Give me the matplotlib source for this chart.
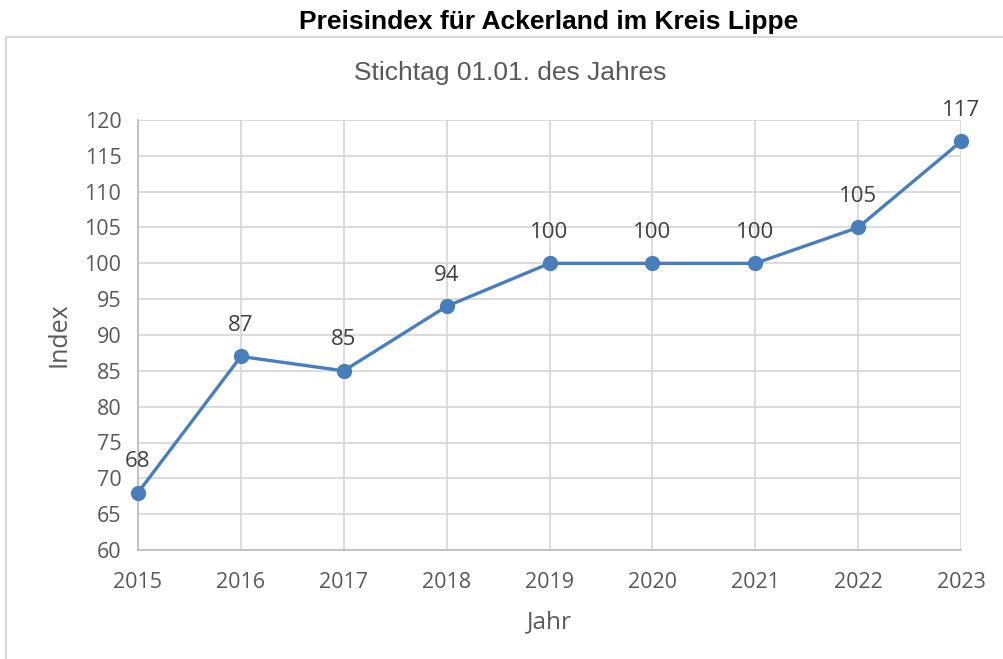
import matplotlib
matplotlib.use('Agg')
import matplotlib.pyplot as plt
from matplotlib.patches import Rectangle

years = [2015, 2016, 2017, 2018, 2019, 2020, 2021, 2022, 2023]
index_values = [68, 87, 85, 94, 100, 100, 100, 105, 117]
y_ticks = list(range(60, 121, 5))

W, H = 1004, 659
fig = plt.figure(figsize=(W / 100, H / 100), dpi=100)

# chart-area frame, cut off at right and bottom edge
fig.patches.append(Rectangle((6 / W, -0.1), 1.1, 1 - 37 / H + 0.1, transform=fig.transFigure,
                             fill=False, edgecolor='#d9d9d9', linewidth=1.5))

ax = fig.add_axes([138 / W, 1 - 550 / H, (961 - 138) / W, (550 - 120) / H])
grey = '#595959'
blue = '#4a7ebb'

ax.plot(years, index_values, color=blue, linewidth=2.4, marker='o', markersize=10,
        zorder=3, clip_on=False)
for x, y in zip(years, index_values):
    ax.annotate(str(y), (x, y), xytext=(0, 22.5), textcoords='offset points', ha='center',
                va='center', fontsize=16, color='#404040', family='Open Sans')

ax.set_xlim(2015, 2023)
ax.set_ylim(60, 120)
ax.set_xticks(years)
ax.set_yticks(y_ticks)
ax.grid(True, color='#d9d9d9', linewidth=1.3)
ax.set_axisbelow(True)
for s in ['top', 'right']:
    ax.spines[s].set_visible(False)
for s in ['left', 'bottom']:
    ax.spines[s].set_color('#bfbfbf')
    ax.spines[s].set_linewidth(1.3)
ax.tick_params(length=0, labelsize=15.5, labelcolor=grey)
ax.tick_params(axis='x', pad=16)
ax.tick_params(axis='y', pad=12)
for lab in ax.get_xticklabels() + ax.get_yticklabels():
    lab.set_family('Open Sans')

ax.set_xlabel('Jahr', fontsize=17.5, color=grey, family='Open Sans', labelpad=12)
ax.set_ylabel('Index', fontsize=18, color=grey, family='Open Sans', labelpad=9)

fig.text(549 / W, 1 - 22 / H, 'Preisindex für Ackerland im Kreis Lippe', ha='center', va='center',
         fontsize=19, fontweight='bold', family='Liberation Sans', color='black')
fig.text(510 / W, 1 - 73 / H, 'Stichtag 01.01. des Jahres', ha='center', va='center',
         fontsize=19, family='Liberation Sans', color=grey)

fig.savefig('out.png', dpi=100)
